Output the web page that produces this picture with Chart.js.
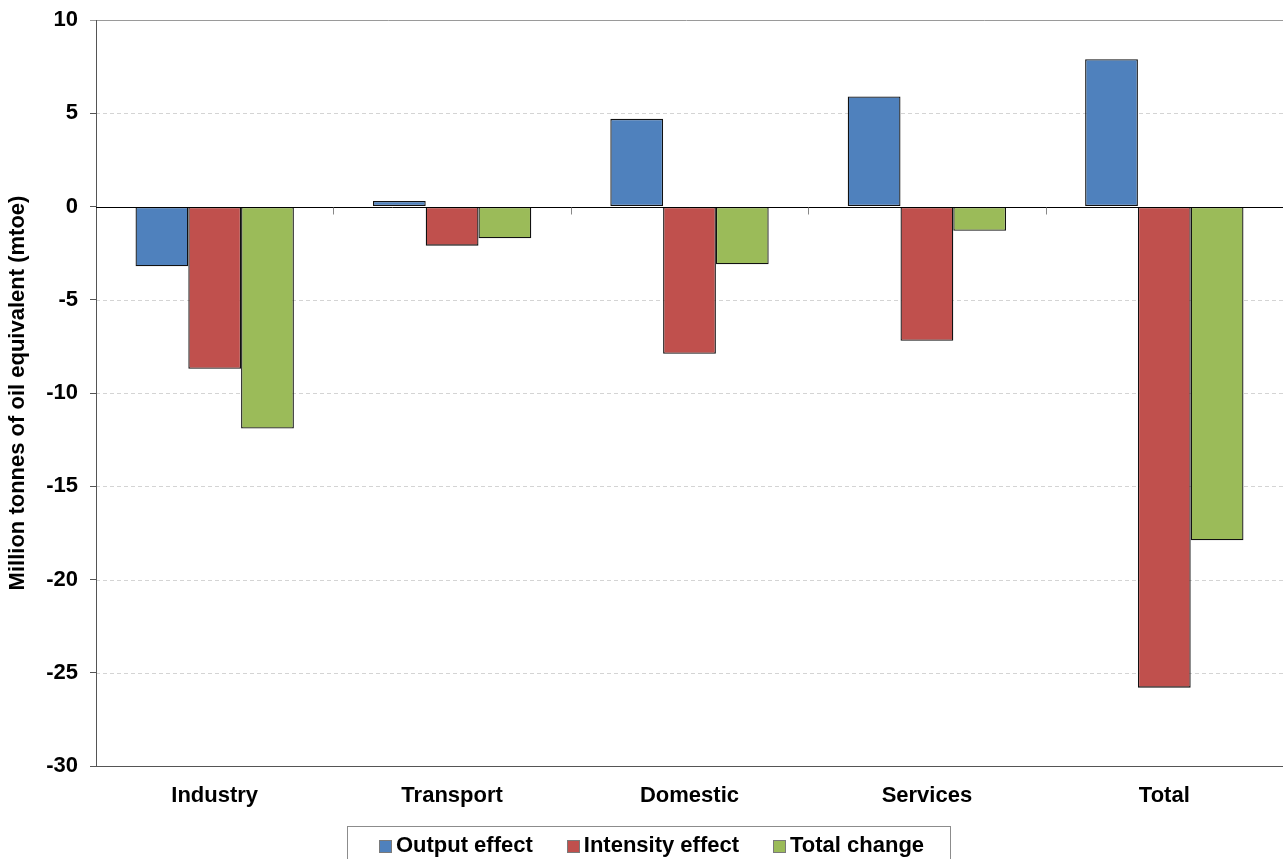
<!DOCTYPE html>
<html>
<head>
<meta charset="utf-8">
<script src="https://cdn.jsdelivr.net/npm/chart.js@4"></script>
<style>
  html, body { margin: 0; padding: 0; background: #fff; }
  #wrap { width: 1283px; height: 859px; }
</style>
</head>
<body>
<div id="wrap"><canvas id="chart" width="1283" height="859"></canvas></div>
<script>
const categories = ["Industry", "Transport", "Domestic", "Services", "Total"];
const seriesNames = ["Output effect", "Intensity effect", "Total change"];
const outputEffect = [-3.2, 0.3, 4.7, 5.9, 7.9];
const intensityEffect = [-8.7, -2.1, -7.9, -7.2, -25.8];
const totalChange = [-11.9, -1.7, -3.1, -1.3, -17.9];
const yTicks = [10, 5, 0, -5, -10, -15, -20, -25, -30];
const colors = ["#4F81BD", "#C0504D", "#9BBB59"];

const FONT = "'Liberation Sans', Arial, sans-serif";

// grid lines, axis line, zero line and the boxed legend
const decorations = {
  id: "decorations",
  beforeDatasetsDraw(chart) {
    const { ctx, chartArea } = chart;
    const y = chart.scales.y;
    ctx.save();
    ctx.lineWidth = 1;
    yTicks.forEach((v) => {
      if (v === 0 || v === -30 || v === 10) return;
      const py = Math.round(y.getPixelForValue(v)) + 0.5;
      ctx.strokeStyle = "#d4d4d4";
      ctx.setLineDash([4, 3]);
      ctx.beginPath();
      ctx.moveTo(chartArea.left, py);
      ctx.lineTo(chartArea.right, py);
      ctx.stroke();
    });
    ctx.setLineDash([]);
    // top line
    const top = Math.round(y.getPixelForValue(10)) + 0.5;
    ctx.strokeStyle = "#9a9a9a";
    ctx.beginPath();
    ctx.moveTo(chartArea.left - 6, top);
    ctx.lineTo(chartArea.right, top);
    ctx.stroke();
    ctx.restore();
  },
  afterDatasetsDraw(chart) {
    const { ctx, chartArea } = chart;
    const x = chart.scales.x;
    const y = chart.scales.y;
    ctx.save();
    ctx.lineWidth = 1;
    // y axis line
    ctx.strokeStyle = "#555";
    const lx = Math.round(chartArea.left) + 0.5;
    ctx.beginPath();
    ctx.moveTo(lx, y.getPixelForValue(10));
    ctx.lineTo(lx, y.getPixelForValue(-30));
    ctx.stroke();
    // zero line
    const zy = Math.round(y.getPixelForValue(0)) + 0.5;
    ctx.strokeStyle = "#000";
    ctx.beginPath();
    ctx.moveTo(chartArea.left, zy);
    ctx.lineTo(chartArea.right, zy);
    ctx.stroke();
    // category tick marks hanging from the zero line
    ctx.strokeStyle = "#888";
    const step = (chartArea.right - chartArea.left) / categories.length;
    for (let i = 1; i < categories.length; i++) {
      const px = Math.round(x.getPixelForValue(i) - step / 2) + 0.5;
      ctx.beginPath();
      ctx.moveTo(px, zy);
      ctx.lineTo(px, zy + 7);
      ctx.stroke();
    }

    // legend
    ctx.font = "bold 22px " + FONT;
    ctx.textBaseline = "middle";
    const box = 13, gapText = 4, gapItem = 34;
    const widths = seriesNames.map((n) => ctx.measureText(n).width);
    let total = 0;
    widths.forEach((w, i) => {
      total += box + gapText + w + (i < widths.length - 1 ? gapItem : 0);
    });
    let px = 651.5 - total / 2;
    const ly = 846;
    ctx.strokeStyle = "#8c8c8c";
    ctx.strokeRect(347.5, 826.5, 603, 40);
    seriesNames.forEach((n, i) => {
      const bx = Math.round(px);
      ctx.fillStyle = colors[i];
      ctx.fillRect(bx, Math.round(ly - box / 2), box, box);
      ctx.strokeStyle = "#7a7a7a";
      ctx.strokeRect(bx + 0.5, Math.round(ly - box / 2) + 0.5, box - 1, box - 1);
      ctx.fillStyle = "#000";
      ctx.fillText(n, px + box + gapText, ly);
      px += box + gapText + widths[i] + gapItem;
    });
    ctx.restore();
  },
};

const ctx = document.getElementById("chart").getContext("2d");

new Chart(ctx, {
  type: "bar",
  data: {
    labels: categories,
    datasets: [outputEffect, intensityEffect, totalChange].map((d, i) => ({
      label: seriesNames[i],
      data: d,
      backgroundColor: colors[i],
      borderColor: "#111",
      borderWidth: 1.3,
      borderSkipped: false,
      categoryPercentage: 0.667,
      barPercentage: 1.0,
    })),
  },
  options: {
    responsive: false,
    animation: false,
    layout: { padding: { top: 20, right: 0, bottom: 0, left: 0 } },
    plugins: {
      legend: { display: false },
      tooltip: { enabled: false },
    },
    scales: {
      x: {
        grid: { display: false },
        border: { display: true, color: "#555", width: 1 },
        ticks: {
          color: "#000",
          padding: 9,
          font: { family: FONT, size: 22, weight: "bold" },
        },
        afterFit(scale) {
          scale.height = 93;
        },
      },
      y: {
        min: -30,
        max: 10,
        afterBuildTicks(scale) {
          scale.ticks = yTicks.map((v) => ({ value: v }));
        },
        grid: {
          drawOnChartArea: false,
          drawTicks: true,
          tickLength: 6,
          tickColor: "#555",
        },
        border: { display: false },
        ticks: {
          color: "#000",
          padding: 12,
          font: { family: FONT, size: 22, weight: "bold" },
        },
        title: {
          display: true,
          text: "Million tonnes of oil equivalent (mtoe)",
          color: "#000",
          padding: { top: 5, bottom: 0 },
          font: { family: FONT, size: 22, weight: "bold" },
        },
        afterFit(scale) {
          scale.width = 96;
          scale.paddingTop = 0;
        },
      },
    },
  },
  plugins: [decorations],
});
</script>
</body>
</html>
